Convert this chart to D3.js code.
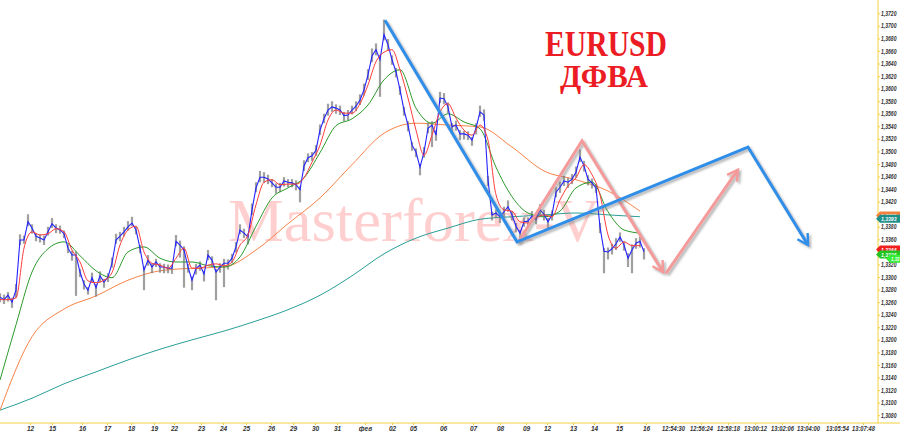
<!DOCTYPE html>
<html><head><meta charset="utf-8">
<script src="https://cdn.jsdelivr.net/npm/d3@7"></script>
<style>body{margin:0;background:#fff}svg{display:block}</style>
</head><body><svg id="c" width="900" height="432"></svg>
<script>
// ---- DATA ----
const closeP = [
1.3268,1.3264,1.3271,1.3260,1.3279,1.3359,1.3359,1.3388,1.3378,1.3365,
1.3362,1.3359,1.3372,1.3385,1.3378,1.3375,1.3369,1.3346,1.3335,1.3335,
1.3308,1.3289,1.3279,1.3299,1.3283,1.3302,1.3292,1.3300,1.3322,1.3359,
1.3365,1.3372,1.3380,1.3386,1.3375,1.3346,1.3311,1.3327,1.3316,1.3324,
1.3316,1.3316,1.3314,1.3314,1.3357,1.3351,1.3343,1.3316,1.3295,1.3314,
1.3319,1.3305,1.3335,1.3327,1.3308,1.3316,1.3322,1.3322,1.3330,1.3348,
1.3375,1.3370,1.3364,1.3407,1.3442,1.3459,1.3459,1.3456,1.3450,1.3443,
1.3443,1.3453,1.3451,1.3450,1.3447,1.3439,1.3477,1.3490,1.3493,1.3502,
1.3534,1.3552,1.3566,1.3571,1.3569,1.3566,1.3557,1.3558,1.3566,1.3572,
1.3582,1.3598,1.3622,1.3652,1.3662,1.3646,1.3686,1.3670,1.3646,1.3627,
1.3598,1.3566,1.3542,1.3510,1.3499,1.3475,1.3499,1.3537,1.3542,1.3526,
1.3585,1.3584,1.3571,1.3539,1.3542,1.3528,1.3528,1.3526,1.3518,1.3537,
1.3563,1.3558,1.3455,1.3399,1.3402,1.3396,1.3404,1.3412,1.3399,1.3381,
1.3370,1.3388,1.3389,1.3397,1.3392,1.3407,1.3400,1.3388,1.3399,1.3435,
1.3443,1.3453,1.3451,1.3456,1.3467,1.3491,1.3477,1.3456,1.3450,1.3442,
1.3380,1.3341,1.3340,1.3345,1.3353,1.3364,1.3351,1.3330,1.3343,1.3354,
1.3357,1.3340];
// bar high above close / low below close, in pips
const upPips = [
6,8,5,7,10,9,7,12,6,5, 6,7,8,9,6,7,5,6,7,6, 5,6,5,8,6,7,5,6,9,10,
7,8,9,10,6,5,6,8,6,5, 6,5,6,5,10,7,6,5,6,7, 6,5,8,6,5,6,7,6,7,8,
9,7,6,10,9,10,8,7,6,6, 7,6,5,6,7,6,9,7,6,8, 9,8,10,9,6,7,6,8,7,8,
9,10,9,12,10,8,24,9,7,6, 6,5,6,5,6,5,8,9,6,8, 10,9,7,6,7,6,5,6,5,8,
10,9,6,5,6,7,8,10,6,5, 5,7,6,8,6,9,7,6,7,8, 9,8,7,8,9,12,8,6,7,6,
6,5,7,8,9,7,6,8,9,8, 7,6];
const dnPips = [
8,7,10,9,12,8,6,7,9,8, 7,8,6,7,8,6,7,8,9,65, 8,9,7,8,14,10,9,8,7,6,
8,7,6,5,7,8,32,9,10,8, 9,10,8,9,8,20,60,9,16,10, 9,12,8,10,45,9,38,10,8,9,
7,8,12,8,7,8,9,8,7,10, 8,9,8,7,9,20,8,7,8,9, 8,7,9,8,9,8,9,8,7,8,
8,9,8,10,9,59,9,10,8,9, 8,9,10,9,8,13,9,8,35,9, 8,9,10,8,9,10,9,8,9,10,
8,9,10,9,8,10,9,8,9,10, 9,8,9,10,8,9,10,12,9,8, 9,8,9,8,9,8,9,10,9,8,
10,35,12,9,10,8,9,14,37,9, 10,12];
// moving averages, sampled every N bars
const redStep = 2;
const redMA = [1.3264,1.3264,1.3267,1.3346,1.3372,1.3367,1.3369,1.3377,1.3372,1.3343,
1.3324,1.3294,1.3291,1.3295,1.3307,1.3351,1.3375,1.3381,1.3340,1.3322,
1.3319,1.3314,1.3330,1.3346,1.3314,1.3314,1.3319,1.3321,1.3318,1.3324,
1.3351,1.3367,1.3415,1.3451,1.3455,1.3447,1.3448,1.3448,1.3458,1.3483,
1.3510,1.3550,1.3566,1.3561,1.3561,1.3576,1.3606,1.3643,1.3658,1.3662,
1.3630,1.3585,1.3534,1.3494,1.3526,1.3563,1.3576,1.3553,1.3534,1.3526,
1.3542,1.3518,1.3431,1.3407,1.3405,1.3388,1.3386,1.3394,1.3399,1.3396,
1.3423,1.3445,1.3458,1.3479,1.3463,1.3431,1.3367,1.3346,1.3356,1.3350,1.3350];
const greenStep = 4;
const greenMA = [1.3136,1.3224,1.3308,1.3345,1.3356,1.3334,1.3310,1.3299,1.3340,1.3348,
1.3330,1.3324,1.3324,1.3318,1.3316,1.3332,1.3381,1.3426,1.3442,1.3458,
1.3498,1.3541,1.3552,1.3574,1.3614,1.3630,1.3569,1.3545,1.3560,1.3547,
1.3536,1.3475,1.3428,1.3402,1.3396,1.3405,1.3442,1.3451,1.3404,1.3375,1.3370];
const slowStep = 8;
const orangeMA = [1.3088,1.3205,1.3249,1.3270,1.3295,1.3310,1.3314,1.3316,1.3343,1.3385,
1.3426,1.3479,1.3529,1.3545,1.3542,1.3539,1.3507,1.3469,1.3455,1.3437,1.3405];
const tealMA = [1.3088,1.3107,1.3130,1.3149,1.3168,1.3185,1.3200,1.3214,1.3230,1.3248,
1.3271,1.3302,1.3337,1.3362,1.3378,1.3392,1.3396,1.3399,1.3402,1.3399,1.3396];
const xTickIdx = [7.5,13,20.5,26.75,32.75,38.5,43.5,50.25,55.75,61.5,67.75,73.25,78.75,84.25,91.25,98,103.25,110.75,
118.25,125,131.5,136.75,143.25,148.5,154.75,161.5,168.25,175.25,182,188.75,195.5,202,209.25,215.75];
const xTickLabels = ["12","15","16","17","18","19","22","23","24","25","26","29","30","31","фев","02","05","06",
"07","08","09","12","13","14","15","16","12:54:30","12:56:24","12:58:18","13:00:12","13:02:06","13:04:00","13:05:54","13:07:48"];
const yTicks = [1.3080,1.3100,1.3120,1.3140,1.3160,1.3180,1.3200,1.3220,1.3240,1.3260,1.3280,1.3300,1.3320,
1.3360,1.3380,1.3420,1.3440,1.3460,1.3480,1.3500,1.3520,1.3540,1.3560,1.3580,1.3600,1.3620,
1.3640,1.3660,1.3680,1.3700,1.3720];
const tagValues = [1.3398,1.3393,1.3344,1.3336,1.3329];
const tagColors = ["#f5823c","#1f8f8a","#f02020","#22c422","#33ee33"];
// wave annotations (bar index, price)
const blueIdx = [96.25,129.25,187,202];
const bluePx  = [1.3709,1.3356,1.3507,1.3351];
const pinkIdxA = [129.5,145.5,165.75];
const pinkPxA  = [1.3355,1.3517,1.3308];
const pinkIdxB = [166.5,184.5];
const pinkPxB  = [1.3306,1.3471];

// ---- CHART ----
const svg = d3.select("#c");
const x = d3.scaleLinear().domain([0,161]).range([0,644]);
const y = d3.scaleLinear().domain([1.3080,1.3720]).range([415.2,13.3]);
const axisX = 878, axisY = 423;
const FONT = "'Liberation Sans',Arial,sans-serif";

const defs = svg.append("defs");
const f = defs.append("filter").attr("id","sh").attr("x","-10%").attr("y","-10%").attr("width","130%").attr("height","130%");
f.append("feDropShadow").attr("dx",2).attr("dy",2).attr("stdDeviation",0.9).attr("flood-color","#777").attr("flood-opacity",0.55);
function marker(id,color){
  defs.append("marker").attr("id",id).attr("viewBox","0 0 10 10").attr("refX",8).attr("refY",5)
    .attr("markerWidth",5).attr("markerHeight",5).attr("orient","auto").attr("markerUnits","strokeWidth")
    .append("path").attr("d","M1,1 L8,5 L1,9").attr("fill","none").attr("stroke",color).attr("stroke-width",1.6);
}
marker("mb","#2f8ee8"); marker("mp","#f49a9a");

// watermark
svg.append("text").attr("x",228).attr("y",241).text("Masterforex-V")
  .attr("font-family","'Liberation Serif','DejaVu Serif',serif").attr("font-size",62)
  .attr("fill","#ff6060").attr("fill-opacity",0.3).attr("textLength",372).attr("lengthAdjust","spacingAndGlyphs");

// title
svg.append("text").attr("x",545).attr("y",56).text("EURUSD")
  .attr("font-family","'Liberation Serif',serif").attr("font-weight","bold").attr("font-size",35)
  .attr("fill","#ec1c24").attr("textLength",122).attr("lengthAdjust","spacingAndGlyphs");
svg.append("text").attr("x",560).attr("y",87).text("ДФВА")
  .attr("font-family","'Liberation Serif',serif").attr("font-weight","bold").attr("font-size",31)
  .attr("fill","#ec1c24").attr("textLength",88).attr("lengthAdjust","spacingAndGlyphs");

// slow MAs
const line = d3.line().curve(d3.curveMonotoneX);
function maPath(arr, step, color, w){
  svg.append("path").attr("d", line(arr.map((v,i)=>[x(i*step), y(v)])))
    .attr("fill","none").attr("stroke",color).attr("stroke-width",w);
}
maPath(tealMA, slowStep, "#2a9f98", 1);
maPath(orangeMA, slowStep, "#f7844a", 1);

// bars
svg.append("g").selectAll("line").data(closeP).join("line")
  .attr("x1",(d,i)=>x(i)).attr("x2",(d,i)=>x(i))
  .attr("y1",(d,i)=>y(d+upPips[i]*0.0001)).attr("y2",(d,i)=>y(d-dnPips[i]*0.0001))
  .attr("stroke","#808080").attr("stroke-width",2.2).attr("stroke-opacity",0.75);

maPath(greenMA, greenStep, "#2c9a2c", 1);
// close line
svg.append("path").attr("d", d3.line().curve(d3.curveLinear)(closeP.map((v,i)=>[x(i),y(v)])))
  .attr("fill","none").attr("stroke","#2323ff").attr("stroke-width",1.1);
maPath(redMA, redStep, "#ff3c3c", 1);

// waves
const wl = d3.line();
svg.append("path").attr("d", wl(pinkIdxA.map((d,i)=>[x(d),y(pinkPxA[i])])))
  .attr("fill","none").attr("stroke","#f49a9a").attr("stroke-width",3).attr("filter","url(#sh)").attr("marker-end","url(#mp)");
svg.append("path").attr("d", wl(pinkIdxB.map((d,i)=>[x(d),y(pinkPxB[i])])))
  .attr("fill","none").attr("stroke","#f49a9a").attr("stroke-width",3).attr("filter","url(#sh)").attr("marker-end","url(#mp)");
svg.append("path").attr("d", wl(blueIdx.map((d,i)=>[x(d),y(bluePx[i])])))
  .attr("fill","none").attr("stroke","#2f8ee8").attr("stroke-width",3).attr("stroke-linejoin","miter")
  .attr("filter","url(#sh)").attr("marker-end","url(#mb)");

// axes
const fmt = d => d.toFixed(4).replace(".", ",");
const gy = svg.append("g").attr("transform",`translate(${axisX},0)`)
  .call(d3.axisRight(y).tickValues(yTicks).tickFormat(fmt).tickSize(2).tickPadding(1));
gy.select(".domain").attr("stroke","#f0d040").attr("d","M0,0V"+axisY);
gy.selectAll(".tick line").attr("stroke","#f0d040");
gy.selectAll("text").attr("font-family",FONT).attr("font-size",6.5)
  .attr("font-style","italic").attr("font-weight","bold").attr("fill","#333")
  .attr("textLength",15.5).attr("lengthAdjust","spacingAndGlyphs");

const gx = svg.append("g").attr("transform",`translate(0,${axisY})`)
  .call(d3.axisBottom(x).tickValues(xTickIdx).tickFormat((d,i)=>xTickLabels[i]).tickSize(2).tickPadding(1));
gx.select(".domain").attr("stroke","#f0d040").attr("d","M0,0H900");
gx.selectAll(".tick line").attr("stroke","#f0d040");
gx.selectAll("text").attr("font-family",FONT).attr("font-size",6.5)
  .attr("font-style","italic").attr("font-weight","bold").attr("fill","#333")
  .each(function(d,i){ if (xTickLabels[i].length > 4) d3.select(this).attr("textLength",23).attr("lengthAdjust","spacingAndGlyphs"); });

// price tags
const tags = svg.append("g");
tagValues.forEach((v,i)=>{
  const yc = y(v), x0 = i===4 ? 886 : 876;
  tags.append("path").attr("d",`M${x0},${yc}L${x0+4},${yc-4}H900V${yc+4}H${x0+4}Z`).attr("fill",tagColors[i]);
  tags.append("text").attr("x",x0+5).attr("y",yc+2.3).text(i===4 ? "1,33" : fmt(v))
    .attr("font-family",FONT).attr("font-size",6)
    .attr("font-style","italic").attr("font-weight","bold").attr("fill","#fff")
    .attr("textLength",i===4 ? 8.5 : 15.5).attr("lengthAdjust","spacingAndGlyphs");
});
</script></body></html>
